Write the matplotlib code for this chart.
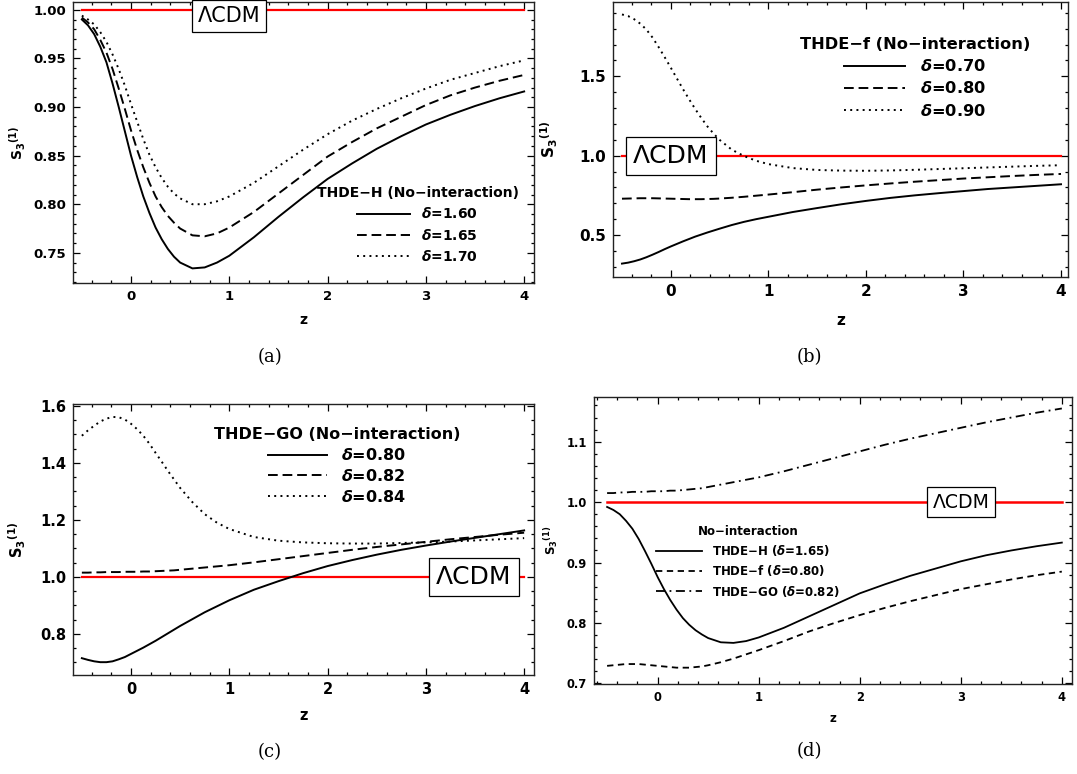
import matplotlib
matplotlib.use('Agg')
import matplotlib.pyplot as plt
from matplotlib.ticker import MultipleLocator, FormatStrFormatter

plt.rcParams['font.family'] = ['DejaVu Sans']
plt.rcParams['font.weight'] = 'bold'
plt.rcParams['mathtext.fontset'] = 'custom'
plt.rcParams['mathtext.rm'] = 'DejaVu Sans:bold'
plt.rcParams['mathtext.it'] = 'DejaVu Sans:italic:bold'
plt.rcParams['mathtext.bf'] = 'DejaVu Sans:bold'

# redshift grid (shared by every curve)
z = [-0.5, -0.4375, -0.375, -0.3125, -0.25, -0.1875, -0.125, -0.0625, 0.0,
     0.0625, 0.125, 0.1875, 0.25, 0.3125, 0.375, 0.4375, 0.5,
     0.625, 0.75, 0.875, 1.0,
     1.25, 1.5, 1.75, 2.0, 2.25, 2.5, 2.75, 3.0, 3.25, 3.5, 3.75, 4.0]

# THDE-H, no interaction
h_160 = [0.990, 0.984, 0.975, 0.962, 0.946, 0.924, 0.900, 0.875, 0.850,
         0.828, 0.808, 0.791, 0.776, 0.764, 0.754, 0.746, 0.740,
         0.734, 0.735, 0.740, 0.747,
         0.766, 0.787, 0.807, 0.826, 0.842, 0.857, 0.870, 0.882, 0.892, 0.901, 0.909, 0.916]
h_165 = [0.992, 0.987, 0.980, 0.969, 0.956, 0.939, 0.919, 0.898, 0.876,
         0.856, 0.838, 0.822, 0.808, 0.797, 0.788, 0.781, 0.775,
         0.768, 0.767, 0.770, 0.776,
         0.792, 0.811, 0.830, 0.849, 0.864, 0.878, 0.890, 0.902, 0.912, 0.920, 0.927, 0.933]
h_170 = [0.994, 0.990, 0.985, 0.977, 0.967, 0.954, 0.939, 0.922, 0.903,
         0.885, 0.867, 0.851, 0.838, 0.827, 0.818, 0.811, 0.806,
         0.800, 0.800, 0.803, 0.808,
         0.822, 0.839, 0.856, 0.872, 0.886, 0.898, 0.909, 0.919, 0.928, 0.935, 0.942, 0.948]

# THDE-f, no interaction
f_070 = [0.320, 0.326, 0.335, 0.346, 0.360, 0.376, 0.393, 0.411, 0.428,
         0.444, 0.460, 0.475, 0.490, 0.503, 0.516, 0.528, 0.540,
         0.563, 0.583, 0.600, 0.615,
         0.645, 0.670, 0.694, 0.715, 0.734, 0.750, 0.764, 0.777, 0.790, 0.800, 0.810, 0.820]
f_080 = [0.729, 0.730, 0.731, 0.732, 0.732, 0.732, 0.731, 0.730, 0.729,
         0.728, 0.727, 0.726, 0.726, 0.726, 0.727, 0.728, 0.730,
         0.735, 0.741, 0.748, 0.755,
         0.770, 0.786, 0.800, 0.813, 0.825, 0.836, 0.846, 0.856, 0.864, 0.872, 0.879, 0.885]
f_090 = [1.890, 1.880, 1.860, 1.832, 1.795, 1.745, 1.685, 1.621, 1.555,
         1.487, 1.420, 1.356, 1.295, 1.238, 1.185, 1.140, 1.100,
         1.038, 0.998, 0.968, 0.947,
         0.922, 0.910, 0.906, 0.905, 0.907, 0.911, 0.916, 0.921, 0.926, 0.931, 0.936, 0.940]

# THDE-GO, no interaction
go_080 = [0.715, 0.709, 0.704, 0.701, 0.701, 0.704, 0.711, 0.719, 0.730,
          0.741, 0.752, 0.764, 0.776, 0.789, 0.802, 0.815, 0.828,
          0.852, 0.876, 0.897, 0.918,
          0.955, 0.985, 1.013, 1.038, 1.059, 1.078, 1.095, 1.110, 1.124, 1.137, 1.150, 1.163]
go_082 = [1.015, 1.015, 1.016, 1.016, 1.017, 1.017, 1.017, 1.018, 1.018,
          1.018, 1.019, 1.019, 1.020, 1.021, 1.022, 1.023, 1.025,
          1.029, 1.033, 1.037, 1.041,
          1.051, 1.062, 1.073, 1.084, 1.095, 1.105, 1.114, 1.123, 1.132, 1.140, 1.148, 1.155]
go_084 = [1.495, 1.514, 1.530, 1.545, 1.555, 1.561, 1.560, 1.552, 1.537,
          1.518, 1.495, 1.467, 1.435, 1.404, 1.372, 1.342, 1.312,
          1.262, 1.220, 1.190, 1.168,
          1.140, 1.127, 1.121, 1.118, 1.117, 1.117, 1.119, 1.121, 1.124, 1.128, 1.132, 1.136]

lcdm = [1.0, 1.0]
lcdm_z = [z[0], z[-1]]

SOLID = '-'
DASH = (0, (5, 2.5))
DOT = (0, (1, 2.2))
SHORTDASH = (0, (3.5, 2.5))
DASHDOT = (0, (5, 2.5, 1, 2.5))


def frame(ax, xlim, ylim, ymaj, ymin, fs):
    ax.set_xlim(*xlim)
    ax.set_ylim(*ylim)
    ax.xaxis.set_major_locator(MultipleLocator(1))
    ax.xaxis.set_minor_locator(MultipleLocator(0.2))
    ax.yaxis.set_major_locator(MultipleLocator(ymaj))
    ax.yaxis.set_minor_locator(MultipleLocator(ymin))
    ax.tick_params(which='both', direction='in', top=True, right=True, width=0.9,
                   labelsize=fs, pad=5)
    ax.tick_params(which='major', length=5)
    ax.tick_params(which='minor', length=2.5)
    for s in ax.spines.values():
        s.set_linewidth(1.0)
        s.set_color('#222222')


def lcdm_box(ax, x, y, fs):
    ax.text(x, y, '\u039bCDM', fontsize=fs, fontweight='normal', ha='center', va='center',
            zorder=5, bbox=dict(boxstyle='square,pad=0.28', fc='white', ec='black', lw=0.9))


def labels(ax, fs, ylx, xly):
    ax.set_ylabel(r'$\mathbf{{S_3}^{(1)}}$', fontsize=fs)
    ax.yaxis.set_label_coords(ylx, 0.5)
    ax.set_xlabel('z', fontsize=fs, fontweight='bold')
    ax.xaxis.set_label_coords(0.5, xly)


fig = plt.figure(figsize=(10.77, 7.74), dpi=100)
ax_a = fig.add_axes([0.0678, 0.6344, 0.428, 0.363])
ax_b = fig.add_axes([0.569, 0.642, 0.4225, 0.3553])
ax_c = fig.add_axes([0.0678, 0.1279, 0.428, 0.350])
ax_d = fig.add_axes([0.5515, 0.1163, 0.4438, 0.3704])

# (a)
ax_a.plot(lcdm_z, lcdm, color='red', lw=1.6)
ax_a.plot(z, h_160, color='black', lw=1.4, ls=SOLID, label=r'$\delta$=1.60')
ax_a.plot(z, h_165, color='black', lw=1.4, ls=DASH, label=r'$\delta$=1.65')
ax_a.plot(z, h_170, color='black', lw=1.4, ls=DOT, label=r'$\delta$=1.70')
frame(ax_a, (-0.59, 4.10), (0.719, 1.008), 0.05, 0.01, 9.5)
ax_a.yaxis.set_major_formatter(FormatStrFormatter('%.2f'))
lcdm_box(ax_a, 0.995, 0.9936, 15)
ax_a.legend(title='THDE\u2212H (No\u2212interaction)', loc='center', bbox_to_anchor=(0.748, 0.206),
            frameon=False, fontsize=10, title_fontproperties={'size': 10, 'weight': 'bold'},
            handlelength=3.75, handletextpad=0.86, labelspacing=0.45, borderpad=0)
labels(ax_a, 10, -0.098, -0.107)

# (b)
ax_b.plot(lcdm_z, lcdm, color='red', lw=1.6)
ax_b.plot(z, f_070, color='black', lw=1.4, ls=SOLID, label=r'$\delta$=0.70')
ax_b.plot(z, f_080, color='black', lw=1.4, ls=DASH, label=r'$\delta$=0.80')
ax_b.plot(z, f_090, color='black', lw=1.4, ls=DOT, label=r'$\delta$=0.90')
frame(ax_b, (-0.594, 4.07), (0.235, 1.968), 0.5, 0.1, 11)
lcdm_box(ax_b, 0.0, 1.0, 18)
ax_b.legend(title='THDE\u2212f (No\u2212interaction)', loc='center', bbox_to_anchor=(0.664, 0.724),
            frameon=False, fontsize=11.7, title_fontproperties={'size': 11.7, 'weight': 'bold'},
            handlelength=3.8, handletextpad=0.9, labelspacing=0.37, borderpad=0)
labels(ax_b, 11, -0.116, -0.131)

# (c)
ax_c.plot(lcdm_z, lcdm, color='red', lw=1.6)
ax_c.plot(z, go_080, color='black', lw=1.4, ls=SOLID, label=r'$\delta$=0.80')
ax_c.plot(z, go_082, color='black', lw=1.4, ls=DASH, label=r'$\delta$=0.82')
ax_c.plot(z, go_084, color='black', lw=1.4, ls=DOT, label=r'$\delta$=0.84')
frame(ax_c, (-0.59, 4.10), (0.656, 1.606), 0.2, 0.05, 10.5)
lcdm_box(ax_c, 3.49, 1.0, 18)
ax_c.legend(title='THDE\u2212GO (No\u2212interaction)', loc='center', bbox_to_anchor=(0.573, 0.771),
            frameon=False, fontsize=11.5, title_fontproperties={'size': 11.5, 'weight': 'bold'},
            handlelength=3.7, handletextpad=0.85, labelspacing=0.3, borderpad=0)
labels(ax_c, 10.5, -0.098, -0.122)

# (d)
ax_d.plot(lcdm_z, lcdm, color='red', lw=1.8)
ax_d.plot(z, h_165, color='black', lw=1.3, ls=SOLID, label=r'THDE$\mathbf{-}$H ($\delta$=1.65)')
ax_d.plot(z, f_080, color='black', lw=1.3, ls=SHORTDASH, label=r'THDE$\mathbf{-}$f ($\delta$=0.80)')
ax_d.plot(z, go_082, color='black', lw=1.3, ls=DASHDOT, label=r'THDE$\mathbf{-}$GO ($\delta$=0.82)')
frame(ax_d, (-0.63, 4.10), (0.699, 1.1735), 0.1, 0.02, 8.3)
lcdm_box(ax_d, 3.0, 1.0, 13.6)
ax_d.legend(title='No\u2212interaction', loc='center', bbox_to_anchor=(0.322, 0.427),
            frameon=False, fontsize=8.5, title_fontproperties={'size': 8.5, 'weight': 'bold'},
            handlelength=3.85, handletextpad=0.85, labelspacing=0.45, borderpad=0)
labels(ax_d, 8.5, -0.071, -0.098)

# captions
cap = dict(fontsize=13, fontweight='normal', family='DejaVu Serif', ha='center', va='center')
fig.text(270 / 1077, 1 - 357 / 774, '(a)', **cap)
fig.text(809 / 1077, 1 - 357 / 774, '(b)', **cap)
fig.text(270 / 1077, 1 - 752 / 774, '(c)', **cap)
fig.text(809 / 1077, 1 - 751 / 774, '(d)', **cap)

fig.savefig('out.png', dpi=100)
